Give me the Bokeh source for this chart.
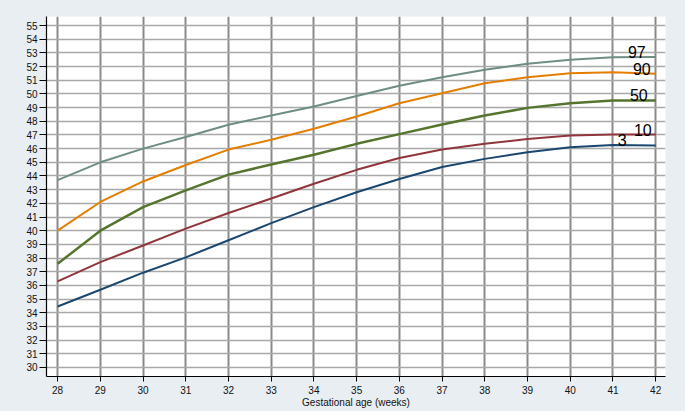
from bokeh.plotting import figure
from bokeh.models import FixedTicker, ColumnDataSource
from bokeh.embed import file_html
from bokeh.resources import INLINE
from bokeh.core.properties import value

# ---- data ----
weeks = list(range(28, 43))
p3 = [34.46, 35.68, 36.93, 38.05, 39.30, 40.55, 41.72, 42.81, 43.78, 44.66, 45.25, 45.74, 46.10, 46.27, 46.23]
p10 = [36.30, 37.70, 38.92, 40.15, 41.29, 42.35, 43.43, 44.45, 45.32, 45.93, 46.35, 46.71, 46.96, 47.03, 47.03]
p50 = [37.58, 40.00, 41.72, 42.95, 44.10, 44.84, 45.55, 46.35, 47.06, 47.77, 48.42, 48.98, 49.32, 49.52, 49.52]
p90 = [40.00, 42.10, 43.60, 44.80, 45.93, 46.65, 47.45, 48.35, 49.32, 50.05, 50.78, 51.22, 51.51, 51.59, 51.47]
p97 = [43.70, 45.00, 46.00, 46.85, 47.75, 48.42, 49.08, 49.85, 50.60, 51.22, 51.76, 52.20, 52.50, 52.68, 52.70]
series_names = ["3", "10", "50", "90", "97"]
x_ticks = list(range(28, 43))
y_ticks = list(range(30, 56))
x_label = "Gestational age (weeks)"

# ---- styles ----
BG = "#e8eef1"
colors = ["#1a476f", "#90353b", "#55752f", "#e37e00", "#6e8e84"]
widths = [2, 2, 2.5, 2, 2]
label_x_offsets = [-29, -4, -8, -5, -10]
FONT = "Liberation Sans"

p = figure(width=685, height=411, output_backend="svg", toolbar_location=None,
           x_range=(27.74, 42.23), y_range=(29.34, 55.66),
           min_border_left=46, min_border_right=20, min_border_top=16, min_border_bottom=35)
p.background_fill_color = "white"
p.border_fill_color = BG
p.outline_line_color = None

# grids
p.xgrid.ticker = FixedTicker(ticks=x_ticks)
p.ygrid.ticker = FixedTicker(ticks=y_ticks)
p.xgrid.grid_line_color = "#8a8a8a"
p.xgrid.grid_line_width = 2
p.ygrid.grid_line_color = "#a9a9a9"
p.ygrid.grid_line_width = 1.6

# axes
p.xaxis.ticker = FixedTicker(ticks=x_ticks)
p.yaxis.ticker = FixedTicker(ticks=y_ticks)
for ax in (p.xaxis[0], p.yaxis[0]):
    ax.axis_line_color = "black"
    ax.axis_line_width = 1.2
    ax.major_tick_line_color = "black"
    ax.major_tick_in = 0
    ax.minor_tick_line_color = None
    ax.major_label_text_font = FONT
    ax.major_label_text_font_size = "10px"
    ax.major_label_text_color = "#111111"
p.yaxis.major_tick_out = 7
p.yaxis.major_label_standoff = 2
p.xaxis.major_tick_out = 5
p.xaxis.major_label_standoff = 4
p.xaxis.axis_label = x_label
p.xaxis.axis_label_text_font = FONT
p.xaxis.axis_label_text_font_size = "10px"
p.xaxis.axis_label_text_font_style = "normal"
p.xaxis.axis_label_text_color = "#111111"
p.xaxis.axis_label_standoff = 0

all_series = [p3, p10, p50, p90, p97]
for vals, c, w in zip(all_series, colors, widths):
    p.line(weeks, vals, line_color=c, line_width=w)

src = ColumnDataSource(dict(
    x=[weeks[-1]] * len(all_series),
    y=[s[-1] for s in all_series],
    t=series_names,
    xo=label_x_offsets,
))
p.text(x="x", y="y", text="t", x_offset="xo", y_offset=1, source=src,
       text_font=value(FONT), text_font_size="16px", text_color="black",
       text_align="right", text_baseline="bottom")

html = file_html(p, INLINE)
html = html.replace("</head>", "<style>body{margin:0;background:%s;}</style></head>" % BG, 1)
open("out.html", "w").write(html)
